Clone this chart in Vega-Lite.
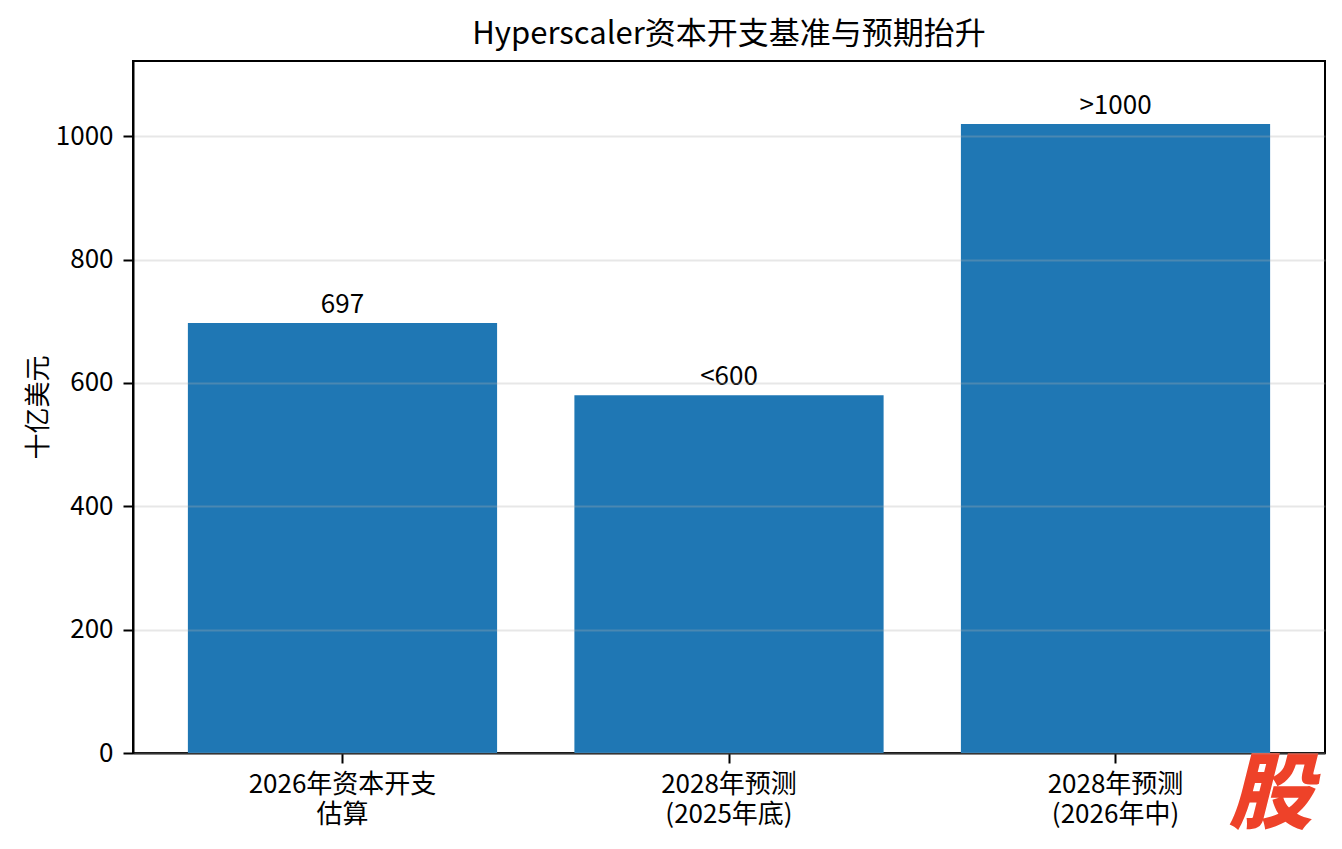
{
  "$schema": "https://vega.github.io/schema/vega-lite/v6.json",
  "autosize": {"type": "none"},
  "padding": {"left": 133, "top": 61, "right": 17, "bottom": 96},
  "width": 1192,
  "height": 692,
  "background": "white",
  "config": {
    "font": "Noto Sans CJK SC",
    "view": {"stroke": "#000000", "strokeWidth": 2},
    "axis": {
      "domainColor": "#000000",
      "domainWidth": 2,
      "tickColor": "#000000",
      "tickWidth": 2,
      "tickSize": 10,
      "labelColor": "#000000",
      "labelFontSize": 26,
      "titleColor": "#000000",
      "titleFontSize": 26,
      "titleFontWeight": "normal"
    }
  },
  "title": {
    "text": "Hyperscaler资本开支基准与预期抬升",
    "fontSize": 31,
    "fontWeight": "normal",
    "color": "#000000",
    "anchor": "middle",
    "offset": 10
  },
  "data": {
    "values": [
      {"category": "2026年资本开支\n估算", "value": 697, "label": "697"},
      {"category": "2028年预测\n(2025年底)", "value": 580, "label": "<600"},
      {"category": "2028年预测\n(2026年中)", "value": 1020, "label": ">1000"}
    ]
  },
  "layer": [
    {
      "mark": {"type": "bar", "color": "#1f77b4"},
      "encoding": {
        "x": {
          "field": "category",
          "type": "nominal",
          "sort": null,
          "scale": {"paddingInner": 0.2, "paddingOuter": 0.142},
          "axis": {
            "title": null,
            "labelAngle": 0,
            "labelLimit": 0,
            "labelExpr": "split(datum.label, '\\n')",
            "labelLineHeight": 30,
            "labelPadding": 8,
            "grid": false
          }
        },
        "y": {
          "field": "value",
          "type": "quantitative",
          "scale": {"domain": [0, 1122], "nice": false},
          "axis": {
            "title": "十亿美元",
            "format": "d",
            "values": [0, 200, 400, 600, 800, 1000],
            "labelPadding": 10,
            "titlePadding": 4,
            "grid": true,
            "gridColor": "#b0b0b0",
            "gridOpacity": 0.3,
            "gridWidth": 2,
            "zindex": 1
          }
        }
      }
    },
    {
      "mark": {"type": "text", "baseline": "alphabetic", "dy": -10, "fontSize": 26, "color": "#000000"},
      "encoding": {
        "x": {"field": "category", "type": "nominal", "sort": null},
        "y": {"field": "value", "type": "quantitative"},
        "text": {"field": "label"}
      }
    },
    {
      "data": {"values": [{"mark": "股"}]},
      "mark": {"type": "text", "fontSize": 84, "fontWeight": 900, "fontStyle": "italic", "color": "#EE4229", "baseline": "middle", "dx": 155},
      "encoding": {
        "x": {"datum": "2028年预测\n(2026年中)"},
        "y": {"datum": -72},
        "text": {"field": "mark"}
      }
    }
  ]
}
